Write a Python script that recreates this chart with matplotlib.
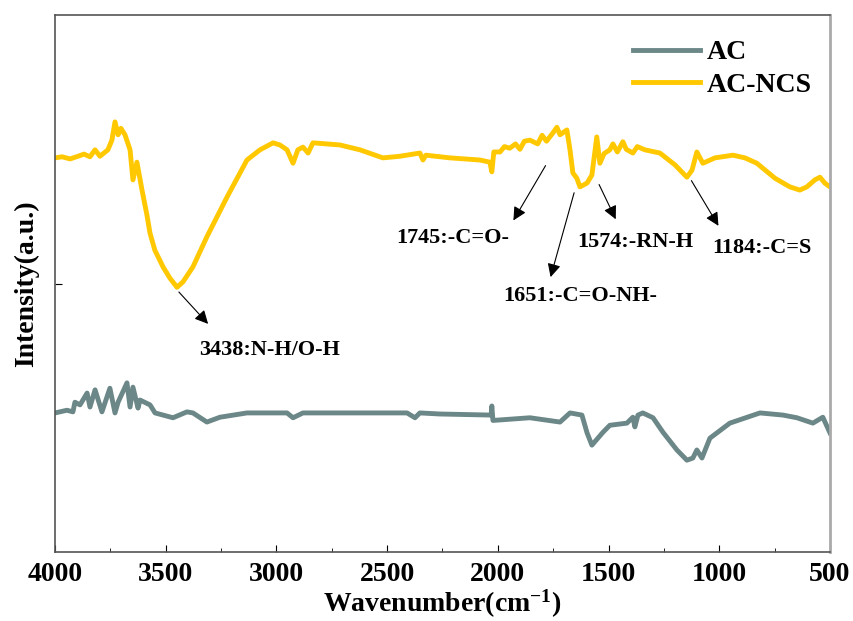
import matplotlib
matplotlib.use('Agg')
import matplotlib.pyplot as plt
from matplotlib.ticker import MultipleLocator

plt.rcParams['font.family'] = ['Liberation Serif', 'DejaVu Serif']
plt.rcParams['font.weight'] = 'bold'
plt.rcParams['mathtext.fontset'] = 'custom'
plt.rcParams['mathtext.rm'] = 'Liberation Serif:bold'
plt.rcParams['mathtext.it'] = 'Liberation Serif:bold'
plt.rcParams['mathtext.bf'] = 'Liberation Serif:bold'

# AC-NCS spectrum (wavenumber, intensity a.u.)
ncs_wn = [4000, 3968, 3932, 3896, 3869, 3842, 3819, 3797, 3761, 3743, 3729, 3715,
          3702, 3684, 3661, 3648, 3630, 3607, 3585, 3571, 3549, 3512, 3481, 3449,
          3422, 3377, 3314, 3223, 3133, 3074, 3015, 2984, 2952, 2925, 2903, 2880,
          2857, 2835, 2713, 2623, 2519, 2442, 2352, 2338, 2325, 2216, 2081, 2036,
          2027, 2018, 1990, 1970, 1946, 1920, 1900, 1880, 1855, 1820, 1800, 1780,
          1752, 1733, 1719, 1688, 1674, 1661, 1643, 1629,
          1597, 1575, 1553, 1539, 1520, 1494, 1480, 1460, 1435, 1420, 1390, 1370,
          1336, 1268, 1200, 1146, 1123,
          1101, 1074, 1019, 938, 884, 830, 748, 681, 636, 604, 568, 545, 523, 500]
ncs_val = [0.734, 0.736, 0.732, 0.737, 0.741, 0.736, 0.749, 0.737, 0.749, 0.767, 0.801, 0.777,
           0.789, 0.777, 0.749, 0.693, 0.726, 0.674, 0.628, 0.594, 0.562, 0.531, 0.510, 0.493,
           0.503, 0.531, 0.587, 0.661, 0.730, 0.749, 0.762, 0.758, 0.749, 0.724, 0.749, 0.754,
           0.743, 0.762, 0.758, 0.749, 0.734, 0.737, 0.743, 0.730, 0.739, 0.734, 0.730, 0.726,
           0.708, 0.745, 0.745, 0.755, 0.752, 0.760, 0.750, 0.765, 0.767, 0.760, 0.776, 0.765,
           0.780, 0.791, 0.777, 0.786, 0.749, 0.706, 0.696, 0.680,
           0.687, 0.702, 0.773, 0.724, 0.742, 0.749, 0.760, 0.745, 0.764, 0.750, 0.743, 0.755,
           0.749, 0.743, 0.721, 0.698, 0.711,
           0.745, 0.724, 0.734, 0.739, 0.734, 0.724, 0.696, 0.680, 0.674, 0.680, 0.693, 0.698, 0.687, 0.680]

# AC spectrum
ac_wn = [4000, 3946, 3919, 3910, 3887, 3855, 3842, 3819, 3788, 3752, 3729, 3715,
         3675, 3661, 3648, 3625, 3616, 3571, 3548, 3467, 3404, 3377, 3314, 3255,
         3133, 2952, 2925, 2880, 2410, 2374, 2352, 2261, 2030, 2027, 2022, 1855,
         1719, 1674, 1620, 1597, 1575, 1525, 1494, 1417, 1390, 1381, 1367, 1345,
         1299, 1254, 1191, 1146, 1119, 1101, 1078, 1042, 952, 816, 712, 649, 577, 532, 500]
ac_val = [0.259, 0.264, 0.261, 0.279, 0.274, 0.296, 0.270, 0.302, 0.261, 0.305, 0.259, 0.279,
          0.315, 0.270, 0.307, 0.268, 0.283, 0.274, 0.259, 0.250, 0.261, 0.259, 0.242, 0.251,
          0.259, 0.259, 0.250, 0.259, 0.259, 0.250, 0.259, 0.257, 0.255, 0.272, 0.245, 0.250,
          0.242, 0.259, 0.255, 0.222, 0.199, 0.223, 0.236, 0.240, 0.251, 0.233, 0.255, 0.259,
          0.250, 0.223, 0.190, 0.171, 0.175, 0.190, 0.175, 0.212, 0.240, 0.259, 0.255, 0.250, 0.240, 0.251, 0.222]

# annotations: label, arrow tail (on curve), arrow head, text centre
notes = [
    ('3438:N-H/O-H', (3449, 0.488), (3300, 0.421), (3029, 0.376)),
    ('1745:-C=O-', (1778, 0.724), (1936, 0.613), (2203, 0.585)),
    ('1651:-C=O-NH-', (1652, 0.674), (1765, 0.507), (1629, 0.477)),
    ('1574:-RN-H', (1548, 0.689), (1462, 0.615), (1381, 0.577)),
    ('1184:-C=S', (1132, 0.696), (997, 0.603), (807, 0.566)),
]

fig = plt.figure(figsize=(8.54, 6.21), dpi=100)
ax = fig.add_axes([0.0644, 0.1111, 0.9074, 0.8647])

ax.plot(ac_wn, ac_val, color='#6c8787', lw=3.5, label='AC')
ax.plot(ncs_wn, ncs_val, color='#ffc800', lw=3.5, label='AC-NCS')

for txt, tail, head, pos in notes:
    ax.annotate('', xy=head, xytext=tail,
                arrowprops=dict(arrowstyle='-|>', color='black', lw=0.8, mutation_scale=20))
    ax.text(pos[0], pos[1], txt, ha='center', va='center', fontsize=16, fontweight='bold')

ax.set_xlim(4000, 500)
ax.set_ylim(0, 1)
ax.xaxis.set_major_locator(MultipleLocator(500))
ax.xaxis.set_minor_locator(MultipleLocator(250))
ax.set_yticks([0.5])
ax.set_yticklabels([])
ax.tick_params(axis='x', which='major', direction='in', length=5, labelsize=20, pad=7)
ax.tick_params(axis='x', which='minor', direction='in', length=3)
ax.tick_params(axis='y', direction='in', length=5)
for s in ['left', 'bottom', 'top']:
    ax.spines[s].set_color('#555555')
    ax.spines[s].set_linewidth(1.2)
ax.spines['right'].set_color('#aaaaaa')
ax.spines['right'].set_linewidth(2)

ax.set_xlabel('Wavenumber(cm$^{-1}$)', fontsize=20, fontweight='bold', labelpad=1)
ax.set_ylabel('Intensity(a.u.)', fontsize=20, fontweight='bold', labelpad=8)

ax.legend(loc='upper right', bbox_to_anchor=(1.009, 1.0), frameon=False, fontsize=20,
          handlelength=2.4, handletextpad=0.25, labelspacing=0.25)

fig.savefig('out.png', dpi=100)
